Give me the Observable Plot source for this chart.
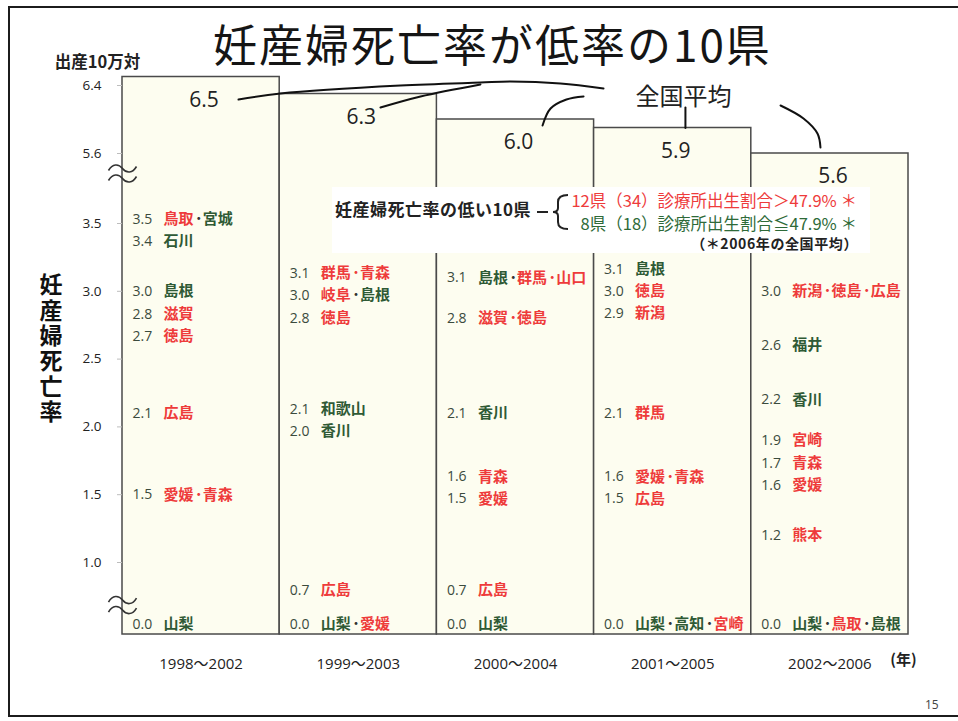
<!DOCTYPE html>
<html lang="ja">
<head>
<meta charset="utf-8">
<script src="https://cdn.jsdelivr.net/npm/d3@7"></script>
<script src="https://cdn.jsdelivr.net/npm/@observablehq/plot@0.6"></script>
<style>
  html, body { margin: 0; padding: 0; background: #fff; overflow: hidden; }
  #page { position: relative; width: 958px; height: 721px; overflow: hidden; background: #fff; }
  #chart { position: absolute; left: 0; top: 0; }
  #frame { position: absolute; left: 8px; top: 6px; width: 1000px; height: 711px; box-sizing: border-box;
           border: 2px solid #1c1c1c; pointer-events: none; }
  #title { position: absolute; left: 213px; top: 21px; font-family: "Noto Sans CJK JP", sans-serif;
           font-size: 44px; line-height: 44px; letter-spacing: 2px; font-weight: 400; color: #151515; white-space: nowrap; }
  #ytitle { position: absolute; left: 39px; top: 273px; font-family: "Noto Sans CJK JP", sans-serif;
            font-size: 23px; line-height: 24px; letter-spacing: 2.4px; font-weight: 700; color: #111;
            writing-mode: vertical-rl; text-orientation: upright; white-space: nowrap; }
  #legend { position: absolute; left: 332px; top: 187px; width: 538px; height: 66px; background: #fff;
            font-family: "Noto Sans CJK JP", sans-serif; }
  #legend .lead { position: absolute; left: 3px; top: 13px; font-size: 17px; line-height: 17px; letter-spacing: 0.5px; font-weight: 700; color: #222; white-space: nowrap; }
  #legend .line { position: absolute; right: 13px; font-size: 16.5px; line-height: 17px; font-weight: 400; white-space: nowrap; }
  #legend .note { position: absolute; right: 12px; top: 49px; font-size: 14px; line-height: 14px; letter-spacing: 0.6px; font-weight: 700; color: #222; white-space: nowrap; }
  #legend svg { position: absolute; left: 0; top: 0; }
  #pageno { position: absolute; left: 925px; top: 696px; font-family: "Open Sans", sans-serif; font-size: 12px; color: #444; }
</style>
</head>
<body>
<div id="page">
  <div id="chart"></div>
  <div id="frame"></div>
  <div id="title"></div>
  <div id="ytitle"></div>
  <div id="legend"></div>
  <div id="pageno">15</div>
</div>
<script>
// ---------------- data ----------------
const chartTitle = "妊産婦死亡率が低率の10県";
const periods = ["1998～2002", "1999～2003", "2000～2004", "2001～2005", "2002～2006"];
const nationalAvg = [6.5, 6.3, 6.0, 5.9, 5.6];
const nationalLabel = "全国平均";

// [rate, prefectures] — the 10 prefectures with the lowest maternal mortality in each period
const lowRates1998 = [[3.5, "鳥取・宮城"], [3.4, "石川"], [3.0, "島根"], [2.8, "滋賀"], [2.7, "徳島"], [2.1, "広島"], [1.5, "愛媛・青森"], [0.0, "山梨"]];
const lowRates1999 = [[3.1, "群馬・青森"], [3.0, "岐阜・島根"], [2.8, "徳島"], [2.1, "和歌山"], [2.0, "香川"], [0.7, "広島"], [0.0, "山梨・愛媛"]];
const lowRates2000 = [[3.1, "島根・群馬・山口"], [2.8, "滋賀・徳島"], [2.1, "香川"], [1.6, "青森"], [1.5, "愛媛"], [0.7, "広島"], [0.0, "山梨"]];
const lowRates2001 = [[3.1, "島根"], [3.0, "徳島"], [2.9, "新潟"], [2.1, "群馬"], [1.6, "愛媛・青森"], [1.5, "広島"], [0.0, "山梨・高知・宮崎"]];
const lowRates2002 = [[3.0, "新潟・徳島・広島"], [2.6, "福井"], [2.2, "香川"], [1.9, "宮崎"], [1.7, "青森"], [1.6, "愛媛"], [1.2, "熊本"], [0.0, "山梨・鳥取・島根"]];
const lowRatesByPeriod = [lowRates1998, lowRates1999, lowRates2000, lowRates2001, lowRates2002];

// clinic birth share > 47.9% (red) / <= 47.9% (green)
const highClinicPrefs = ["鳥取", "滋賀", "徳島", "広島", "愛媛", "青森", "群馬", "岐阜", "山口", "新潟", "宮崎", "熊本"];
const lowClinicPrefs = ["宮城", "石川", "島根", "山梨", "和歌山", "香川", "高知", "福井"];

const legendLead = "妊産婦死亡率の低い10県";
const legendHigh = "12県（34）診療所出生割合＞47.9% ＊";
const legendLow = "8県（18）診療所出生割合≦47.9% ＊";
const legendNote = "（＊2006年の全国平均）";

const yTicks = [1.0, 1.5, 2.0, 2.5, 3.0, 3.5, 5.6, 6.4];
const axisBreaks = [5.0, 0.4];
const yUnit = "出産10万対";
const yTitle = "妊産婦死亡率";
const xUnit = "(年)";

// ---------------- layout (broken axis & connectors) ----------------
const yDomain = [0, 0.7, 1.0, 3.5, 5.6, 6.5];
const yRange = [624, 590, 562, 223, 153, 76.5];
const connectors = [
  {id: "a", pts: [[0.238, 6.235], [0.505, 6.306], [1.268, 6.40], [1.777, 6.435], [1.968, 6.447], [2.286, 6.424], [2.56, 6.365]]},
  {id: "b", pts: [[1.141, 6.141], [1.396, 6.271], [1.777, 6.412]]},
  {id: "c", pts: [[2.172, 5.929], [2.223, 6.129], [2.324, 6.235], [2.433, 6.271]]},
  {id: "d", pts: [[3.081, 6.141], [3.081, 5.9]]},
  {id: "e", pts: [[3.686, 6.165], [3.832, 6.012], [3.921, 5.835], [3.94, 5.671]]}
];
const nationalLabelAt = {x: 3.069, y: 6.259};

// ---------------- styles ----------------
const RED = "#ee3b3b", GREEN = "#2f5a35", NUM = "#3b4b3d", DARK = "#222";
const CJK = '"Noto Sans CJK JP", sans-serif';
const LAT = '"Open Sans", "Noto Sans CJK JP", sans-serif';
const NAME_SIZE = 15, CHAR_W = 15.6, SEP_W = 8, ROW_GAP = 22;

// axis-break glyph (two wavy strokes) as a custom dot symbol
const breakSymbol = {
  draw(ctx) {
    for (const oy of [-5, 5]) {
      ctx.moveTo(-14, oy + 2);
      ctx.bezierCurveTo(-10, oy - 5, -4, oy - 5, 0, oy);
      ctx.bezierCurveTo(4, oy + 5, 10, oy + 5, 14, oy - 2);
    }
  }
};

// ---------------- build ----------------
// same mapping as the plot's y scale, used only to keep neighbouring rows from overlapping
const yPx = d3.scaleLinear().domain(yDomain).range(yRange);
function repel(values) {
  const p = values.map(yPx);
  for (let it = 0; it < 300; it++) {
    for (let k = 1; k < p.length; k++) {
      const gap = p[k] - p[k - 1];
      if (gap < ROW_GAP) { const s = (ROW_GAP - gap) / 2; p[k - 1] -= s; p[k] += s; }
    }
  }
  return p.map(v => yPx.invert(v));
}

const bars = periods.map((p, i) => ({i, period: p, avg: nationalAvg[i]}));
const numItems = [];
const nameItems = [];
lowRatesByPeriod.forEach((rows, i) => {
  const sorted = rows.slice().sort((a, b) => b[0] - a[0]);
  const shown = repel(sorted.map(r => r[0]));
  sorted.forEach(([v, names], r) => {
    const yPos = shown[r];
    numItems.push({i, v, yPos});
    const list = names.split("・");
    let off = 0;
    list.forEach((n, k) => {
      if (k > 0) {
        const bothRed = highClinicPrefs.includes(list[k - 1]) && highClinicPrefs.includes(n);
        nameItems.push({i, v, yPos, text: "･", off, kind: "sep", color: bothRed ? RED : "#333"});
        off += SEP_W;
      }
      nameItems.push({i, v, yPos, text: n, off, kind: "name", color: highClinicPrefs.includes(n) ? RED : GREEN});
      off += n.length * CHAR_W;
    });
  });
});
const connectorPts = connectors.flatMap(c => c.pts.map(([x, y]) => ({id: c.id, x, y})));

const nameMarks = d3.groups(nameItems, d => d.kind + "|" + d.off).map(([, arr]) => {
  const sep = arr[0].kind === "sep";
  return Plot.text(arr, {
    x: d => d.i - 0.5, y: "yPos", text: "text", fill: d => d.color,
    textAnchor: "start", dx: 41 + arr[0].off + (sep ? 0.3 : 0),
    fontSize: NAME_SIZE, fontWeight: "bold", fontFamily: CJK
  });
});

const chart = Plot.plot({
  width: 958, height: 721,
  marginLeft: 122, marginRight: 50, marginTop: 76, marginBottom: 87,
  x: {type: "linear", domain: [-0.5, periods.length - 0.5], range: [122, 908], axis: null},
  y: {type: "linear", domain: yDomain, range: yRange},
  color: {type: "identity"},
  style: {fontFamily: LAT, background: "transparent"},
  marks: [
    Plot.rect(bars, {x1: d => d.i - 0.5, x2: d => d.i + 0.5, y1: 0, y2: "avg", insetBottom: -10,
      fill: "#fdfdf0", stroke: "#4a4a4a", strokeWidth: 1.5}),
    // y axis: ticks + labels
    Plot.axisY({ticks: yTicks, tickFormat: () => "", tickSize: 5, stroke: "#bdbdbd", label: null}),
    Plot.text(yTicks, {x: -0.5, y: d => d, text: d => d.toFixed(1), textAnchor: "end", dx: -21,
      fontSize: 13.5, fill: DARK, fontFamily: LAT}),
    // x axis labels
    Plot.text(d3.range(periods.length), {x: d => d, y: 0, text: d => periods[d], dy: 40,
      fontSize: 15, fill: DARK, fontFamily: LAT}),
    // axis breaks
    Plot.dot(axisBreaks, {x: -0.5, y: d => d, symbol: breakSymbol, r: 5, fill: "none",
      stroke: "#333", strokeWidth: 1.6}),
    Plot.text([yUnit], {frameAnchor: "top-left", textAnchor: "middle", dx: -25, dy: -20, text: d => d, fontSize: 16.5,
      fontWeight: "bold", fontFamily: CJK, fill: DARK}),
    Plot.text([xUnit], {frameAnchor: "bottom-right", textAnchor: "middle", dx: -5, dy: 30, text: d => d, fontSize: 15,
      fontWeight: "bold", fontFamily: CJK, fill: DARK}),
    Plot.text(bars, {x: "i", y: "avg", text: d => d.avg.toFixed(1), dx: 3, dy: 23, fontSize: 21,
      fill: DARK, fontFamily: LAT}),
    Plot.line(connectorPts, {x: "x", y: "y", z: "id", curve: "catmull-rom", stroke: "#111", strokeWidth: 2}),
    Plot.text([nationalLabel], {x: () => nationalLabelAt.x, y: () => nationalLabelAt.y, text: d => d,
      fontSize: 24, fontFamily: CJK, fill: DARK}),
    Plot.text(numItems, {x: d => d.i - 0.5, y: "yPos", text: d => d.v.toFixed(1), textAnchor: "start",
      dx: 10, fontSize: 14, fill: NUM, fontFamily: LAT}),
    ...nameMarks
  ]
});
document.getElementById("chart").appendChild(chart);
document.getElementById("title").textContent = chartTitle;
document.getElementById("ytitle").textContent = yTitle;

const legend = document.getElementById("legend");
legend.innerHTML = `
  <svg width="538" height="66">
    <path d="M205,25 H216 M236,8 Q226,8 226,15 V21 Q226,25 221,25 Q226,25 226,29 V35 Q226,42 236,42"
      fill="none" stroke="#222" stroke-width="2"/>
  </svg>
  <div class="lead"></div>
  <div class="line" style="top:5px;color:${RED}"></div>
  <div class="line" style="top:28px;color:#2e6a38"></div>
  <div class="note"></div>`;
legend.querySelector(".lead").textContent = legendLead;
legend.querySelectorAll(".line")[0].textContent = legendHigh;
legend.querySelectorAll(".line")[1].textContent = legendLow;
legend.querySelector(".note").textContent = legendNote;
</script>
</body>
</html>
